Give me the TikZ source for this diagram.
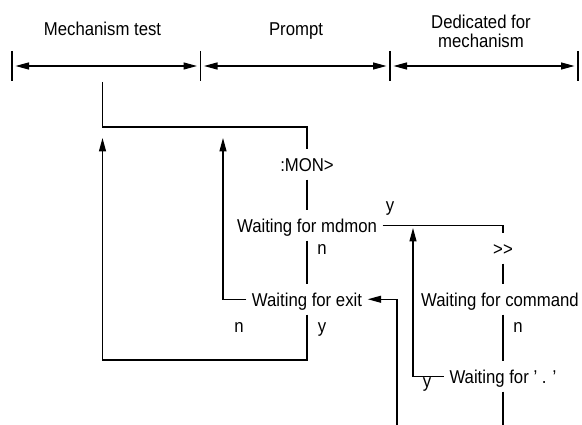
\documentclass[tikz,border=0pt]{standalone}
\usepackage{fontspec}
\setmainfont{Liberation Sans}[FakeStretch=0.9]
\usetikzlibrary{arrows.meta}
\tikzset{
  every node/.style={font=\fontsize{18.6}{19}\selectfont, inner sep=0pt},
  stepnode/.style={anchor=base, text height=19pt, text depth=3.5pt,
                   inner xsep=5.5pt, inner ysep=4pt},
  flag/.style={anchor=base},
  wire/.style={line width=1.25pt},
  tip/.tip={Triangle[length=13.5pt,width=7pt]},
  flow/.style={wire, -tip},
  span/.style={wire, tip-tip, shorten <=3.5pt, shorten >=3.5pt},
  bar/.style={line width=1.5pt}
}
\begin{document}
\begin{tikzpicture}[x=1pt,y=-1pt]
\useasboundingbox (0,0) rectangle (582,425);

% phase ruler
\coordinate (t0) at (12,66);
\coordinate (t1) at (200.5,66);
\coordinate (t2) at (390,66);
\coordinate (t3) at (578,66);
\foreach \c in {t0,t1,t2,t3}
  \draw[bar] ([yshift=15pt]\c) -- ([yshift=-15pt]\c);
\draw[span] (t0) -- (t1);
\draw[span] (t1) -- (t2);
\draw[span] (t2) -- (t3);
\node[anchor=base] (h1) at (102.5,36) {Mechanism test};
\node[anchor=base] (h2) at (296,36) {Prompt};
\node[anchor=north, align=center] (h3) at (481,14.5) {Dedicated for\\mechanism};

% states
\node[stepnode] (mon)   at (307,172) {:MON>};
\node[stepnode] (mdmon) at (307,233) {Waiting for mdmon};
\node[stepnode] (exit)  at (307,307) {Waiting for exit};
\node[stepnode] (cmd)   at (503,256) {>{}>};
\node[stepnode] (wcmd)  at (500,307) {Waiting for command};
\node[stepnode] (dot)   at (503,384) {Waiting for ’ . ’};

% free ends and corners
\coordinate (top1) at (102.5,82);
\coordinate (c1)   at (102.5,127);
\coordinate (a1)   at (102.5,138);
\coordinate (c3)   at (102.5,360);
\coordinate (a2)   at (223,138);
\coordinate (b1)   at (397,425);
\coordinate (a3)   at (413,228);
\coordinate (b2)   at (503,425);

% connectors
\draw[wire] (top1) -- (c1) -| (mon.north);
\draw[wire] (mon.south) -- (mdmon.north);
\draw[wire] (mdmon.east) -| (cmd.north);
\draw[wire] (mdmon.south) -- (exit.north);
\draw[flow] (exit.west) -| (a2);
\draw[flow] (exit.south) |- (c3) -- (a1);
\draw[flow] (b1) |- (exit.east);
\draw[wire] (cmd.south) -- (cmd.south |- wcmd.north);
\draw[wire] (cmd.south |- wcmd.south) -- (dot.north);
\draw[flow] (dot.west) -| (a3);
\draw[wire] (dot.south) -- (b2);

% branch labels
\node[flag] (ly1) at (390,212) {y};
\node[flag] (ln1) at (322,255) {n};
\node[flag] (ln2) at (239,333) {n};
\node[flag] (ly2) at (322,333) {y};
\node[flag] (ln3) at (518,333) {n};
\node[flag] (ly3) at (427,388) {y};
\end{tikzpicture}
\end{document}
